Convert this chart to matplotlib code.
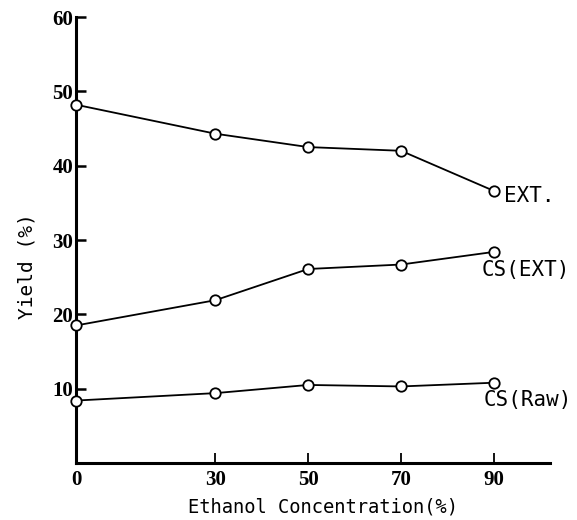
import matplotlib
matplotlib.use("Agg")
import matplotlib.pyplot as plt

# ---- data ----
conc = [0, 30, 50, 70, 90]
ext = [48.2, 44.3, 42.5, 42.0, 36.6]
cs_ext = [18.5, 21.9, 26.1, 26.7, 28.4]
cs_raw = [8.4, 9.4, 10.5, 10.3, 10.8]
series_names = ["EXT.", "CS(EXT)", "CS(Raw)"]
x_ticks = [0, 30, 50, 70, 90]
y_ticks = [10, 20, 30, 40, 50, 60]
x_label = "Ethanol Concentration(%)"
y_label = "Yield (%)"

W, H = 577, 520
fig = plt.figure(figsize=(W / 100, H / 100), dpi=100)
left_px, right_px, bottom_px, top_px = 76, 549.7, 463, 17
ax = fig.add_axes([left_px / W, (H - bottom_px) / H,
                   (right_px - left_px) / W, (bottom_px - top_px) / H])
ax.set_xlim(0, 102)
ax.set_ylim(0, 60)

for s in ["top", "right"]:
    ax.spines[s].set_visible(False)
for s in ["left", "bottom"]:
    ax.spines[s].set_linewidth(2.2)
    ax.spines[s].set_color("black")
    ax.spines[s].set_capstyle("projecting")

tick_font = dict(family="Liberation Serif", weight="bold", size=15)
ax.set_xticks(x_ticks)
ax.set_xticklabels([str(v) for v in x_ticks], fontdict=tick_font)
ax.set_yticks(y_ticks)
ax.set_yticklabels([str(v) for v in y_ticks], fontdict=tick_font)
ax.tick_params(axis="x", direction="in", length=7, width=1.3, pad=5)
ax.tick_params(axis="y", direction="in", length=7, width=1.8, pad=2)

offsets = [(35 * 0.72, -5 * 0.72), (32 * 0.72, -18 * 0.72), (33.5 * 0.72, -17 * 0.72)]
for ys, name, off in zip([ext, cs_ext, cs_raw], series_names, offsets):
    ax.plot(conc, ys, color="black", lw=1.3, marker="o", ms=7.5,
            mfc="white", mec="black", mew=1.3, clip_on=False, zorder=5)
    ax.annotate(name, (conc[-1], ys[-1]), xytext=off, textcoords="offset points",
                ha="center", va="center", family="DejaVu Sans Mono", fontsize=15)

fig.text(323 / W, 1 - 507 / H, x_label, ha="center", va="center",
         family="DejaVu Sans Mono", fontsize=13.5)
fig.text(27 / W, 1 - 266 / H, y_label, ha="center", va="center", rotation=90,
         family="DejaVu Sans Mono", fontsize=14)

fig.savefig("out.png", dpi=100)
